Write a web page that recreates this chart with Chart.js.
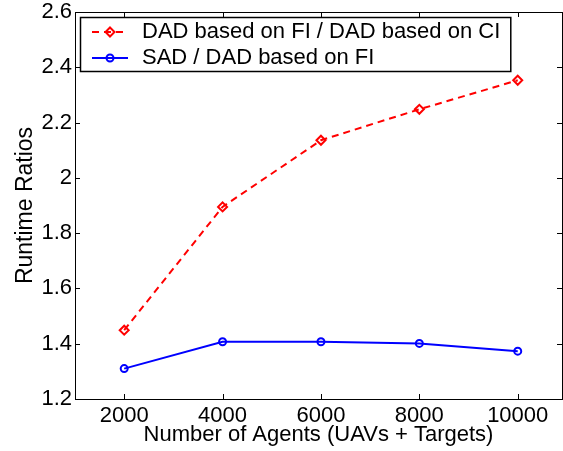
<!DOCTYPE html>
<html>
<head>
<meta charset="utf-8">
<script src="https://cdn.jsdelivr.net/npm/chart.js@4.4.1/dist/chart.umd.min.js"></script>
<style>
  html, body { margin: 0; padding: 0; background: #fff; overflow: hidden; }
  #myChart { display: block; }
</style>
</head>
<body>
<canvas id="myChart" width="563" height="451"></canvas>
<script>
var agents = [2000, 4000, 6000, 8000, 10000];
var fiOverCi = [1.449, 1.895, 2.136, 2.248, 2.353];
var sadOverFi = [1.310, 1.407, 1.407, 1.401, 1.373];
var xTicks = [2000, 4000, 6000, 8000, 10000];
var yTicks = [1.2, 1.4, 1.6, 1.8, 2, 2.2, 2.4, 2.6];

var FONT = 'Liberation Sans, Arial, Helvetica, sans-serif';

function points(ys) {
  return agents.map(function (a, i) { return { x: a, y: ys[i] }; });
}

// box round the axes, inward ticks on all four sides, and the legend
var matlabFrame = {
  id: 'matlabFrame',
  afterDraw: function (chart) {
    var ctx = chart.ctx, ca = chart.chartArea;
    var xs = chart.scales.x, ys = chart.scales.y;
    ctx.save();
    ctx.strokeStyle = '#000';
    ctx.lineWidth = 1;
    ctx.strokeRect(Math.round(ca.left) + 0.5, Math.round(ca.top) + 0.5,
      Math.round(ca.right - ca.left), Math.round(ca.bottom - ca.top));
    ctx.beginPath();
    xTicks.forEach(function (v) {
      var px = Math.round(xs.getPixelForValue(v)) + 0.5;
      ctx.moveTo(px, ca.bottom); ctx.lineTo(px, ca.bottom - 5);
      ctx.moveTo(px, ca.top); ctx.lineTo(px, ca.top + 5);
    });
    yTicks.forEach(function (v) {
      var py = Math.round(ys.getPixelForValue(v)) + 0.5;
      ctx.moveTo(ca.left, py); ctx.lineTo(ca.left + 5, py);
      ctx.moveTo(ca.right, py); ctx.lineTo(ca.right - 5, py);
    });
    ctx.stroke();

    // legend
    var lx = Math.round(ca.left) + 5, ly = Math.round(ca.top) + 5;
    ctx.font = '22px ' + FONT;
    var widest = 0;
    chart.data.datasets.forEach(function (ds) {
      widest = Math.max(widest, ctx.measureText(ds.label).width);
    });
    var boxW = 62 + widest + 10, boxH = 54;
    ctx.fillStyle = '#fff';
    ctx.fillRect(lx, ly, boxW, boxH);
    ctx.lineWidth = 1.5;
    ctx.strokeRect(lx + 0.5, ly + 0.5, boxW, boxH);
    chart.data.datasets.forEach(function (ds, i) {
      var cy = ly + 15 + i * 26;
      ctx.strokeStyle = ds.borderColor;
      ctx.lineWidth = ds.borderWidth;
      ctx.setLineDash(ds.borderDash || []);
      ctx.beginPath();
      ctx.moveTo(lx + 12, cy); ctx.lineTo(lx + 48, cy);
      ctx.stroke();
      ctx.setLineDash([]);
      ctx.lineWidth = ds.pointBorderWidth;
      ctx.beginPath();
      var mx = lx + 30, r = ds.pointRadius;
      if (ds.pointStyle === 'rectRot') {
        ctx.moveTo(mx, cy - r); ctx.lineTo(mx + r, cy);
        ctx.lineTo(mx, cy + r); ctx.lineTo(mx - r, cy); ctx.closePath();
      } else {
        ctx.arc(mx, cy, r, 0, Math.PI * 2);
      }
      ctx.stroke();
      ctx.fillStyle = '#000';
      ctx.textBaseline = 'middle';
      ctx.textAlign = 'left';
      ctx.fillText(ds.label, lx + 62, cy);
    });
    ctx.restore();
  }
};

Chart.defaults.font.family = FONT;
Chart.defaults.color = '#000';

var ctx = document.getElementById('myChart');
var runtimeChart = new Chart(ctx, {
  type: 'scatter',
  data: {
    datasets: [{
      label: 'DAD based on FI / DAD based on CI',
      data: points(fiOverCi),
      showLine: true,
      borderColor: 'rgb(255, 0, 0)',
      borderWidth: 2,
      borderDash: [7, 5],
      pointStyle: 'rectRot',
      pointRadius: 4.5,
      pointBorderWidth: 2,
      pointBackgroundColor: 'rgba(255,255,255,0)',
      pointBorderColor: 'rgb(255, 0, 0)'
    }, {
      label: 'SAD / DAD based on FI',
      data: points(sadOverFi),
      showLine: true,
      borderColor: 'rgb(0, 0, 255)',
      borderWidth: 2,
      pointStyle: 'circle',
      pointRadius: 3.5,
      pointBorderWidth: 2,
      pointBackgroundColor: 'rgba(255,255,255,0)',
      pointBorderColor: 'rgb(0, 0, 255)'
    }]
  },
  options: {
    responsive: false,
    animation: false,
    devicePixelRatio: 1,
    layout: { autoPadding: false, padding: { top: 12, right: 1, left: 0, bottom: 0 } },
    plugins: { legend: { display: false }, tooltip: { enabled: false } },
    scales: {
      x: {
        type: 'linear',
        min: 1000,
        max: 10900,
        afterBuildTicks: function (s) { s.ticks = xTicks.map(function (v) { return { value: v }; }); },
        afterFit: function (s) { s.height = 52; s.paddingLeft = 0; s.paddingRight = 0; },
        grid: { display: false, drawTicks: false },
        border: { display: false },
        ticks: { padding: 4, maxRotation: 0, font: { size: 22 }, callback: function (v) { return String(v); } },
        title: { display: true, text: 'Number of Agents (UAVs + Targets)', font: { size: 22 }, padding: { top: 0, bottom: 3 } }
      },
      y: {
        min: 1.2,
        max: 2.6,
        afterBuildTicks: function (s) { s.ticks = yTicks.map(function (v) { return { value: v }; }); },
        afterFit: function (s) { s.width = 75; s.paddingTop = 0; s.paddingBottom = 0; },
        grid: { display: false, drawTicks: false },
        border: { display: false },
        ticks: { padding: 3, font: { size: 22 }, callback: function (v) { return String(+v.toFixed(1)); } },
        title: { display: true, text: 'Runtime Ratios', font: { size: 23 }, padding: { top: 12, bottom: 0 } }
      }
    }
  },
  plugins: [matlabFrame]
});
</script>
</body>
</html>
